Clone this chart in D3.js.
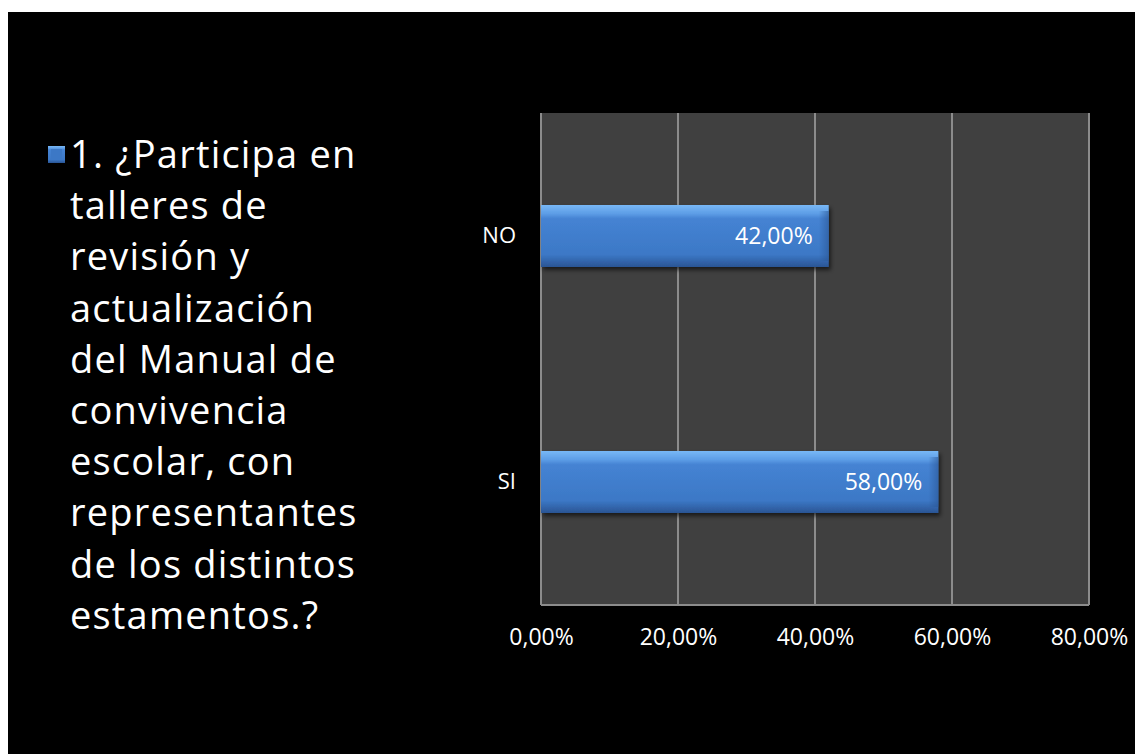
<!DOCTYPE html>
<html>
<head>
<meta charset="utf-8">
<script src="https://cdn.jsdelivr.net/npm/d3@7"></script>
<style>
  html, body { margin: 0; padding: 0; background: #fff; }
  svg { display: block; }
  text { font-family: "Open Sans", Lato, sans-serif; }
</style>
</head>
<body>
<script>
// chart values
var categories = ["NO", "SI"];
var values = [0.42, 0.58];
var xTicks = [0, 0.2, 0.4, 0.6, 0.8];
var legendLines = ["1. ¿Participa en", "talleres de", "revisión y", "actualización",
                   "del Manual de", "convivencia", "escolar, con", "representantes",
                   "de los distintos", "estamentos.?"];

var width = 1135, height = 754;
var plot = {left: 541, right: 1089, top: 113, bottom: 605};

var fmt = function(v) { return d3.format(".2f")(v * 100).replace(".", ",") + "%"; };

var svg = d3.select("body").append("svg")
    .attr("width", width)
    .attr("height", height);

var defs = svg.append("defs");

var grad = defs.append("linearGradient")
    .attr("id", "barGrad")
    .attr("x1", 0).attr("y1", 0).attr("x2", 0).attr("y2", 1);
grad.append("stop").attr("offset", "0%").attr("stop-color", "#78b8f6");
grad.append("stop").attr("offset", "14%").attr("stop-color", "#5d9de6");
grad.append("stop").attr("offset", "22%").attr("stop-color", "#4583d3");
grad.append("stop").attr("offset", "80%").attr("stop-color", "#3c78c6");
grad.append("stop").attr("offset", "90%").attr("stop-color", "#3366ad");
grad.append("stop").attr("offset", "100%").attr("stop-color", "#2a5594");

var side = defs.append("linearGradient")
    .attr("id", "sideGrad")
    .attr("x1", 0).attr("y1", 0).attr("x2", 1).attr("y2", 0);
side.append("stop").attr("offset", "0%").attr("stop-color", "#2a5594").attr("stop-opacity", 0);
side.append("stop").attr("offset", "100%").attr("stop-color", "#2a5594").attr("stop-opacity", 0.6);

var shadow = defs.append("filter").attr("id", "shadow")
    .attr("x", "-5%").attr("y", "-20%").attr("width", "115%").attr("height", "150%");
shadow.append("feDropShadow")
    .attr("dx", 2).attr("dy", 3).attr("stdDeviation", 2)
    .attr("flood-color", "#000").attr("flood-opacity", 0.6);

// black slide background
svg.append("rect")
    .attr("x", 8).attr("y", 12)
    .attr("width", width - 8).attr("height", height - 12)
    .attr("fill", "#000");

// scales
var x = d3.scaleLinear().domain([0, 0.8]).range([plot.left, plot.right]);
var y = d3.scaleBand().domain(categories)
    .range([plot.top, plot.bottom])
    .paddingInner(0.748).paddingOuter(0.374);

// plot area
svg.append("rect")
    .attr("x", plot.left).attr("y", plot.top)
    .attr("width", plot.right - plot.left).attr("height", plot.bottom - plot.top)
    .attr("fill", "#404040");

svg.append("g").selectAll("line")
    .data(xTicks)
    .enter().append("line")
    .attr("x1", function(d) { return x(d); })
    .attr("x2", function(d) { return x(d); })
    .attr("y1", plot.top).attr("y2", plot.bottom)
    .attr("stroke", "#8c8c8c").attr("stroke-width", 2);

svg.append("line")
    .attr("x1", plot.left).attr("x2", plot.right)
    .attr("y1", plot.bottom).attr("y2", plot.bottom)
    .attr("stroke", "#8c8c8c").attr("stroke-width", 2);

// x axis
var xAxis = svg.append("g")
    .attr("transform", "translate(0," + plot.bottom + ")")
    .call(d3.axisBottom(x).tickValues(xTicks).tickFormat(fmt).tickSize(0).tickPadding(24));
xAxis.select(".domain").remove();
xAxis.selectAll("text")
    .attr("fill", "#fff")
    .style("font-size", "23px")
    .style("font-family", "'Open Sans', Lato, sans-serif");

// y axis labels
var yAxis = svg.append("g")
    .attr("transform", "translate(" + plot.left + ",0)")
    .call(d3.axisLeft(y).tickSize(0).tickPadding(25));
yAxis.select(".domain").remove();
yAxis.selectAll("text")
    .attr("fill", "#fff")
    .style("font-size", "22px")
    .style("font-family", "'Open Sans', Lato, sans-serif");

// bars
var bars = svg.append("g").selectAll("g")
    .data(categories)
    .enter().append("g");

bars.append("rect")
    .attr("x", x(0))
    .attr("y", function(d) { return y(d); })
    .attr("width", function(d, i) { return x(values[i]) - x(0); })
    .attr("height", y.bandwidth())
    .attr("fill", "url(#barGrad)")
    .attr("filter", "url(#shadow)");

// soft bevel on the right end
bars.append("rect")
    .attr("x", function(d, i) { return x(values[i]) - 10; })
    .attr("y", function(d) { return y(d) + 6; })
    .attr("width", 10)
    .attr("height", y.bandwidth() - 12)
    .attr("fill", "url(#sideGrad)");

bars.append("text")
    .attr("x", function(d, i) { return x(values[i]) - 16; })
    .attr("y", function(d) { return y(d) + y.bandwidth() / 2; })
    .attr("dy", "0.35em")
    .attr("text-anchor", "end")
    .attr("fill", "#fff")
    .style("font-size", "23px")
    .text(function(d, i) { return fmt(values[i]); });

// legend
var legend = svg.append("g");
legend.append("rect")
    .attr("x", 48).attr("y", 146)
    .attr("width", 17).attr("height", 17)
    .attr("fill", "url(#barGrad)");
legend.append("rect")
    .attr("x", 51).attr("y", 149)
    .attr("width", 11).attr("height", 11)
    .attr("fill", "#3c78c6");

legend.selectAll("text.line")
    .data(legendLines)
    .enter().append("text")
    .attr("class", "line")
    .attr("x", 70)
    .attr("y", function(d, i) { return 168 + i * 51.2; })
    .attr("fill", "#fff")
    .style("font-size", "38px")
    .style("letter-spacing", "1.2px")
    .text(function(d) { return d; });
</script>
</body>
</html>
